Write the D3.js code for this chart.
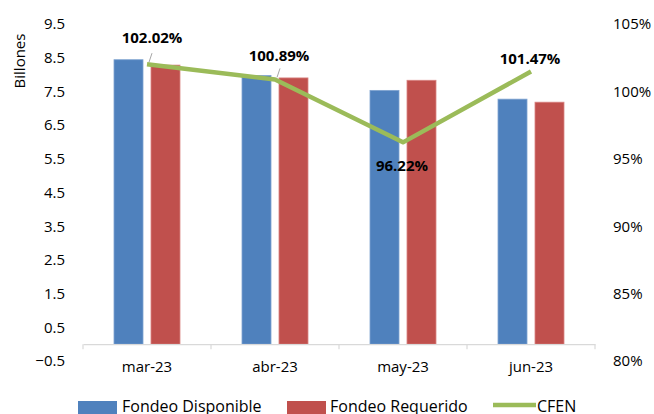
<!DOCTYPE html>
<html>
<head>
<meta charset="utf-8">
<script src="https://cdn.jsdelivr.net/npm/d3@7"></script>
<style>
  body { margin: 0; background: #fff; }
  svg text { font-family: "Open Sans", "Noto Sans", sans-serif; fill: #000; }
</style>
</head>
<body>
<svg id="chart" width="654" height="414"></svg>
<script>
// data
var months = ["mar-23", "abr-23", "may-23", "jun-23"];
var disponible = [8.44, 7.97, 7.53, 7.27];
var requerido = [8.28, 7.90, 7.83, 7.18];
var cfen = [1.0202, 1.0089, 0.9622, 1.0147];
var cfenLabels = ["102.02%", "100.89%", "96.22%", "101.47%"];
var leftTicks = [-0.5, 0.5, 1.5, 2.5, 3.5, 4.5, 5.5, 6.5, 7.5, 8.5, 9.5];
var rightTicks = [0.80, 0.85, 0.90, 0.95, 1.00, 1.05];

var svg = d3.select("#chart");

var blue = "#4F81BD", red = "#C0504D", green = "#9BBB59";

// scales
var x = d3.scaleBand().domain(months).range([83, 595]).padding(0);
var inner = d3.scaleBand().domain(["disp", "req"]).range([-33, 33]).paddingInner(0.216);
var yL = d3.scaleLinear().domain([-0.5, 9.5]).range([361, 24]);
var yR = d3.scaleLinear().domain([0.80, 1.05]).range([361, 24]);

// left axis labels
svg.append("g")
    .attr("transform", "translate(65,0)")
    .call(d3.axisLeft(yL).tickValues(leftTicks).tickSize(0).tickPadding(0).tickFormat(d3.format(".1f")))
    .call(function(g) { g.select(".domain").remove(); })
    .selectAll("text")
    .style("font-size", "15px");

// right axis labels
svg.append("g")
    .attr("transform", "translate(613,0)")
    .call(d3.axisRight(yR).tickValues(rightTicks).tickSize(0).tickPadding(0).tickFormat(d3.format(".0%")))
    .call(function(g) { g.select(".domain").remove(); })
    .selectAll("text")
    .style("font-size", "15px");

// y title
svg.append("text")
    .attr("transform", "translate(25,61) rotate(-90)")
    .attr("text-anchor", "middle")
    .style("font-size", "15px")
    .text("Billones");

// bars
var rows = months.map(function(m, i) {
    return { month: m, disp: disponible[i], req: requerido[i] };
});

var groups = svg.append("g").selectAll("g")
    .data(rows)
    .enter()
    .append("g")
    .attr("transform", function(d) { return "translate(" + (x(d.month) + x.bandwidth() / 2) + ",0)"; });

groups.append("rect")
    .attr("x", inner("disp"))
    .attr("width", inner.bandwidth())
    .attr("y", function(d) { return yL(d.disp); })
    .attr("height", function(d) { return yL(0) - yL(d.disp); })
    .attr("fill", blue)
    .attr("stroke", "#7FA3D1")
    .attr("stroke-width", 0.8);

groups.append("rect")
    .attr("x", inner("req"))
    .attr("width", inner.bandwidth())
    .attr("y", function(d) { return yL(d.req); })
    .attr("height", function(d) { return yL(0) - yL(d.req); })
    .attr("fill", red)
    .attr("stroke", "#D98583")
    .attr("stroke-width", 0.8);

// x axis
var xAxis = svg.append("g")
    .attr("transform", "translate(0," + yL(0) + ")")
    .call(d3.axisBottom(x).tickSize(0).tickPadding(17));
xAxis.select(".domain").attr("stroke", "#D9D9D9").attr("stroke-width", 1.2);
xAxis.selectAll("text").style("font-size", "15px");
// category boundary ticks
var bounds = months.map(function(m) { return x(m); }).concat([x.range()[1]]);
xAxis.selectAll("line.bound")
    .data(bounds)
    .enter()
    .append("line")
    .attr("class", "bound")
    .attr("x1", function(d) { return d; })
    .attr("x2", function(d) { return d; })
    .attr("y1", 0)
    .attr("y2", 5)
    .attr("stroke", "#D9D9D9")
    .attr("stroke-width", 1.2);

// CFEN line
var pts = months.map(function(m, i) { return [x(m) + x.bandwidth() / 2, yR(cfen[i])]; });
svg.append("path")
    .datum(pts)
    .attr("d", d3.line())
    .attr("fill", "none")
    .attr("stroke", green)
    .attr("stroke-width", 4.5)
    .attr("stroke-linejoin", "round");

// data labels
var labelOffsets = [[5, -21], [4, -18], [-1, 29], [-1, -8]];
svg.append("g").selectAll("text")
    .data(cfenLabels)
    .enter()
    .append("text")
    .attr("x", function(d, i) { return pts[i][0] + labelOffsets[i][0]; })
    .attr("y", function(d, i) { return pts[i][1] + labelOffsets[i][1]; })
    .attr("text-anchor", "middle")
    .style("font-size", "15px")
    .style("font-weight", "bold")
    .text(function(d) { return d; });

// leader lines for the first two labels
[0, 1].forEach(function(i) {
    svg.append("line")
        .attr("x1", pts[i][0] + 5)
        .attr("y1", pts[i][1] - 11)
        .attr("x2", pts[i][0] + 2)
        .attr("y2", pts[i][1] - 2)
        .attr("stroke", "#A6A6A6")
        .attr("stroke-width", 1);
});

// legend
var legend = svg.append("g");
legend.append("rect").attr("x", 78).attr("y", 401).attr("width", 39).attr("height", 13).attr("fill", blue);
legend.append("text").attr("x", 122).attr("y", 412).style("font-size", "16px").text("Fondeo Disponible");
legend.append("rect").attr("x", 287).attr("y", 401).attr("width", 39).attr("height", 13).attr("fill", red);
legend.append("text").attr("x", 330).attr("y", 412).style("font-size", "16px").text("Fondeo Requerido");
legend.append("line").attr("x1", 493).attr("x2", 536).attr("y1", 405).attr("y2", 405)
    .attr("stroke", green).attr("stroke-width", 4.5);
legend.append("text").attr("x", 537).attr("y", 412).style("font-size", "16px").text("CFEN");
</script>
</body>
</html>
